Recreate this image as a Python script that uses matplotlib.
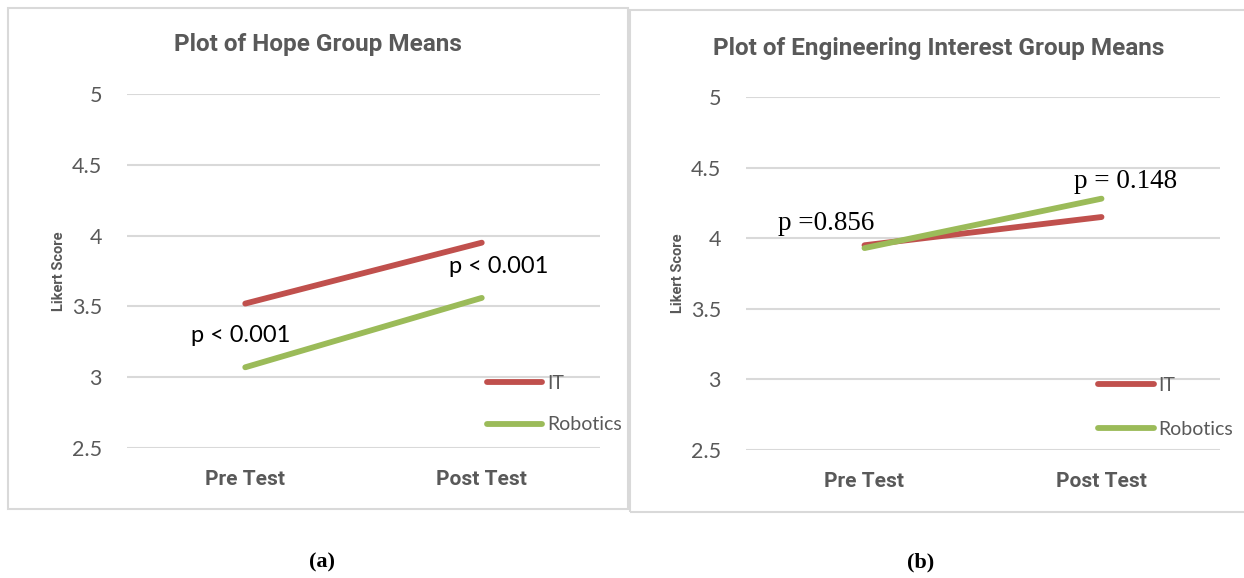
import matplotlib
matplotlib.use("Agg")
from matplotlib import pyplot as plt
from matplotlib.patches import Rectangle

# categories and group means
tests = ['Pre Test', 'Post Test']
hope_it = [3.52, 3.95]
hope_robotics = [3.07, 3.56]
eng_it = [3.95, 4.15]
eng_robotics = [3.93, 4.28]
y_ticks = [2.5, 3, 3.5, 4, 4.5, 5]
y_tick_labels = ['2.5', '3', '3.5', '4', '4.5', '5']

red = '#C0504D'
green = '#9BBB59'
gray_text = '#595959'
grid_gray = '#D9D9D9'
sans = 'Lato'
sans_bold = 'Roboto'
serif = 'Liberation Serif'

fig = plt.figure(figsize=(12.44, 5.78), dpi=100)
W, H = 1244, 578


def px_rect(x0, y0, x1, y1):
    # pixel box (top-left origin) -> figure fraction rect
    return [x0 / W, 1 - y1 / H, (x1 - x0) / W, (y1 - y0) / H]


# chart borders
for (x0, y0, x1, y1) in [(8, 8, 628, 509), (630, 10, 1250, 512)]:
    fig.patches.append(Rectangle((x0 / W, 1 - y1 / H), (x1 - x0) / W, (y1 - y0) / H,
                                 transform=fig.transFigure, fill=False,
                                 edgecolor=grid_gray, lw=1.5))


def setup(ax, it, rob, leg_xy, leg_spacing):
    xs = range(len(tests))
    ax.plot(xs, it, color=red, lw=4.2, solid_capstyle='round', label='IT')
    ax.plot(xs, rob, color=green, lw=4.2, solid_capstyle='round', label='Robotics')
    ax.set_xlim(-0.5, 1.5)
    ax.set_ylim(2.5, 5)
    ax.set_yticks(y_ticks)
    ax.set_yticklabels(y_tick_labels, fontfamily=sans, fontsize=15.5, color=gray_text)
    ax.set_xticks(list(xs))
    ax.set_xticklabels(tests, fontfamily=sans_bold, fontsize=15, fontweight='bold', color=gray_text)
    ax.tick_params(axis='y', length=0, pad=18)
    ax.tick_params(axis='x', length=0, pad=16)
    ax.yaxis.grid(True, color=grid_gray, lw=1.5)
    ax.set_axisbelow(True)
    for s in ax.spines.values():
        s.set_visible(False)
    ax.set_ylabel('Likert Score', fontfamily=sans_bold, fontsize=10.5, fontweight='bold',
                  color=gray_text, labelpad=4)
    leg = ax.legend(loc='upper left', bbox_to_anchor=leg_xy, frameon=False,
                    borderpad=0, borderaxespad=0,
                    handlelength=2.85, handletextpad=0.25, labelspacing=leg_spacing,
                    prop={'family': sans, 'size': 14})
    for t in leg.get_texts():
        t.set_color(gray_text)
    return ax


ax1 = fig.add_axes(px_rect(127, 94, 600, 448))
setup(ax1, hope_it, hope_robotics, (0.761, 0.206), 1.25)
ax1.text(-0.02, 3.295, 'p < 0.001', fontfamily=sans, fontsize=17,
         ha='center', va='center')
ax1.text(1.07, 3.78, 'p < 0.001', fontfamily=sans, fontsize=17,
         ha='center', va='center')

ax2 = fig.add_axes(px_rect(746, 97, 1220, 450))
setup(ax2, eng_it, eng_robotics, (0.743, 0.207), 1.4)
ax2.text(-0.16, 4.105, 'p =0.856', fontfamily=serif, fontsize=19.5,
         ha='center', va='center')
ax2.text(1.10, 4.40, 'p = 0.148', fontfamily=serif, fontsize=19.5,
         ha='center', va='center')

# chart titles, centred on the chart boxes
fig.text(318 / W, 1 - 45 / H, 'Plot of Hope Group Means', fontfamily=sans_bold,
         fontsize=17.5, fontweight='bold', color=gray_text, ha='center', va='center')
fig.text(939 / W, 1 - 48 / H, 'Plot of Engineering Interest Group Means',
         fontfamily=sans_bold, fontsize=17.5, fontweight='bold', color=gray_text,
         ha='center', va='center')

# sub-figure captions
fig.text(322 / W, 1 - 562 / H, '(a)', fontfamily=serif, fontsize=16,
         fontweight='bold', ha='center', va='center')
fig.text(921 / W, 1 - 562 / H, '(b)', fontfamily=serif, fontsize=16,
         fontweight='bold', ha='center', va='center')

fig.savefig('out.png', dpi=100)
